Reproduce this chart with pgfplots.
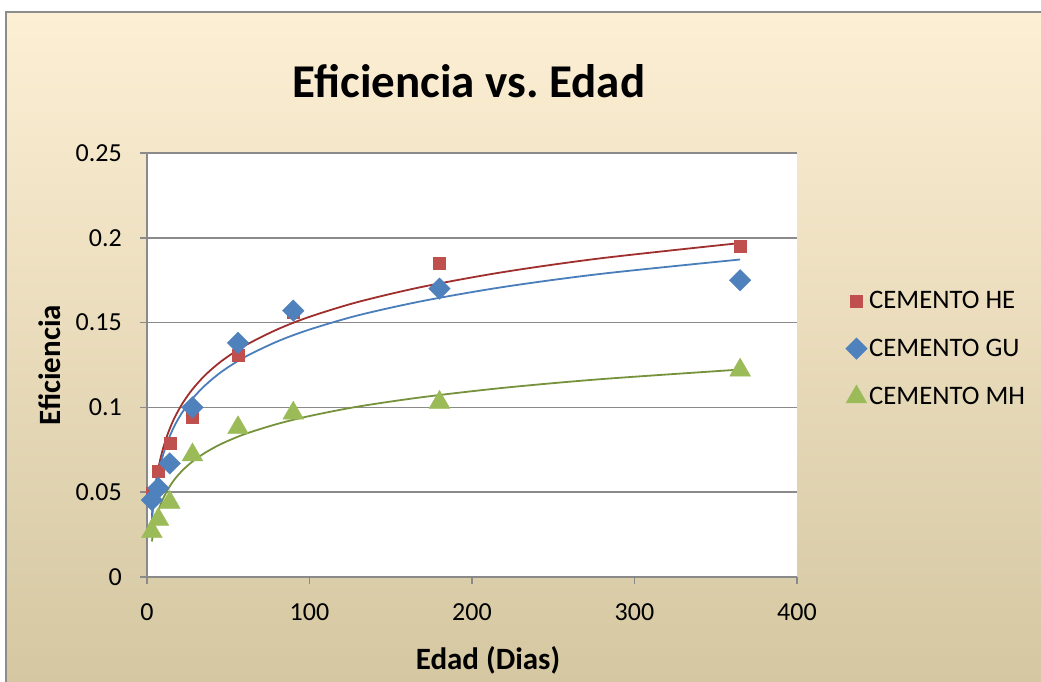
\documentclass[border=0pt]{standalone}
\usepackage{pgfplots}
\pgfplotsset{compat=1.18}
\usepackage{fontspec}
\setmainfont{Carlito}
\definecolor{heM}{HTML}{C0504D}
\definecolor{guM}{HTML}{4F81BD}
\definecolor{mhM}{HTML}{9BBB59}
\definecolor{heL}{HTML}{9E2F2C}
\definecolor{guL}{HTML}{4A7EBB}
\definecolor{mhL}{HTML}{76923C}
\definecolor{gridgray}{HTML}{8A8A8A}
\definecolor{bgtop}{HTML}{FDEFD4}
\definecolor{bgbot}{HTML}{D4C7A1}
\definecolor{bordergray}{HTML}{8C8C8C}
\begin{document}
\begin{tikzpicture}[x=1bp,y=1bp]
\useasboundingbox (0,0) rectangle (1041,682);
\fill[white] (0,0) rectangle (1041,682);
\shade[top color=bgtop, bottom color=bgbot] (6,0) rectangle (1041,670);
\draw[bordergray, line width=1.2bp] (6,0) -- (6,670) -- (1041,670);
\node[font=\bfseries\fontsize{47bp}{56bp}\selectfont, anchor=base, inner sep=0pt] at (469,584) {Eficiencia vs.\ Edad};
\node[font=\bfseries\fontsize{31bp}{37bp}\selectfont, anchor=base, inner sep=0pt] at (488,12) {Edad (Dias)};
\node[font=\bfseries\fontsize{31bp}{37bp}\selectfont, anchor=base, rotate=90, inner sep=0pt] at (60,317) {Eficiencia};
\begin{axis}[
  at={(147bp,105bp)}, anchor=south west,
  scale only axis, width=650bp, height=424bp,
  xmin=0, xmax=400, ymin=0, ymax=0.25,
  xtick={0,100,200,300,400},
  ytick={0,0.05,0.1,0.15,0.2,0.25},
  yticklabels={0,0.05,0.1,0.15,0.2,0.25},
  xticklabels={0,100,200,300,400},
  axis lines*=left,
  axis line style={draw=gridgray, line width=1.5bp},
  ymajorgrids,
  grid style={draw=gridgray, line width=1.5bp},
  tick align=outside,
  major tick length=7bp,
  tick style={draw=gridgray, line width=1.5bp},
  axis background/.style={fill=white},
  ticklabel style={font=\fontsize{26bp}{31bp}\selectfont},
  yticklabel style={anchor=east, inner sep=0pt, xshift=-18bp},
  xticklabel style={anchor=north, inner sep=0pt, yshift=-19bp},
  clip=false,
  legend style={draw=none, fill=none, at={(1.07,0.538)}, anchor=west,
    font=\fontsize{26.7bp}{31bp}\selectfont, row sep=25bp,
    legend cell align=left},
  legend image code/.code={\draw[#1, only marks] plot coordinates {(6bp,0bp)};},
]
% scatter data
\addplot[only marks, mark=square*, mark size=6bp, color=heM] coordinates {
(3,0.0495) (7,0.0625) (14,0.079) (28,0.094) (56,0.131) (90,0.156) (180,0.185) (365,0.195)};
\addlegendentry{CEMENTO HE}
\addplot[only marks, mark=square*, mark size=7.6bp, mark options={rotate=45}, color=guM] coordinates {
(3,0.0454) (7,0.0525) (14,0.067) (28,0.100) (56,0.138) (90,0.157) (180,0.170) (365,0.175)};
\addlegendentry{CEMENTO GU}
\addplot[only marks, mark=triangle*, mark size=12bp, color=mhM] coordinates {
(3,0.0267) (7,0.034) (14,0.044) (28,0.072) (56,0.088) (90,0.0966) (180,0.103) (365,0.122)};
\addlegendentry{CEMENTO MH}
% logarithmic trend lines
\addplot[forget plot, no marks, smooth, color=heL, line width=1.8bp] coordinates {
(3,0.0358) (4,0.0454) (5,0.0529) (6,0.0590) (8,0.0687) (10,0.0762) (13,0.0850) (17,0.0940)
(22,0.1026) (28,0.1107) (36,0.1192) (46,0.1274) (60,0.1363) (80,0.1459) (100,0.1534)
(130,0.1622) (170,0.1712) (220,0.1799) (280,0.1880) (365,0.1969)};
\addplot[forget plot, no marks, smooth, color=guL, line width=1.8bp] coordinates {
(3,0.0339) (4,0.0431) (5,0.0502) (6,0.0560) (8,0.0652) (10,0.0723) (13,0.0807) (17,0.0893)
(22,0.0975) (28,0.1052) (36,0.1132) (46,0.1211) (60,0.1296) (80,0.1388) (100,0.1459)
(130,0.1543) (170,0.1628) (220,0.1711) (280,0.1788) (365,0.1872)};
\addplot[forget plot, no marks, smooth, color=mhL, line width=1.8bp] coordinates {
(3,0.0210) (4,0.0270) (5,0.0317) (6,0.0356) (8,0.0417) (10,0.0464) (13,0.0519) (17,0.0576)
(22,0.0630) (28,0.0681) (36,0.0734) (46,0.0786) (60,0.0842) (80,0.0902) (100,0.0949)
(130,0.1005) (170,0.1061) (220,0.1116) (280,0.1167) (365,0.1223)};
\end{axis}
\end{tikzpicture}
\end{document}
